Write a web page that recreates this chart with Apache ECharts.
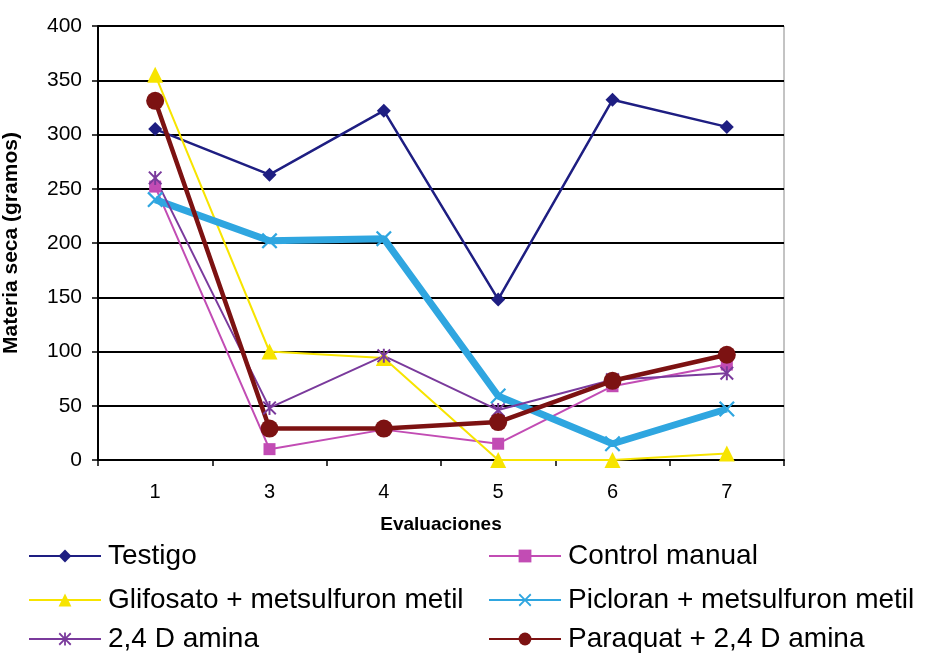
<!DOCTYPE html>
<html><head><meta charset="utf-8">
<script src="https://cdn.jsdelivr.net/npm/echarts@6/dist/echarts.min.js"></script>
<style>html,body{margin:0;padding:0;background:#fff}#c{width:928px;height:654px}</style>
</head><body><div id="c"></div>
<script>
const categories = ['1','3','4','5','6','7'];
const testigo = [305, 263, 322, 148, 332, 307];
const controlManual = [252, 10, 28, 15, 68, 88];
const glifosato = [355, 100, 94, 0, 0, 6];
const picloran = [240, 202, 204, 59, 15, 47];
const amina = [260, 48, 96, 46, 74, 80];
const paraquat = [331, 29, 29, 35, 73, 97];
const seriesNames = ['Testigo','Control manual','Glifosato + metsulfuron metil','Picloran + metsulfuron metil','2,4 D amina','Paraquat + 2,4 D amina'];

const xPath = 'path://M0,1 L1,0 L5,4 L9,0 L10,1 L6,5 L10,9 L9,10 L5,6 L1,10 L0,9 L4,5 Z';
const astPath = 'path://M0,1 L1,0 L5,4 L9,0 L10,1 L6,5 L10,9 L9,10 L5,6 L1,10 L0,9 L4,5 Z M4.3,0 L5.7,0 L5.7,10 L4.3,10 Z';

const font = 'Liberation Sans, Arial, sans-serif';
const chart = echarts.init(document.getElementById('c'), null, {renderer:'canvas'});

function mk(name, data, color, width, symbol, size){
  return {name, type:'line', data, symbol, symbolSize:size, showSymbol:true,
    lineStyle:{color, width}, itemStyle:{color, borderWidth:0}, animation:false, z: 3};
}
function leg(name, left, top){
  return {data:[name], left, top, itemWidth:72, itemHeight:16, itemGap:0, padding:0,
    textStyle:{fontFamily:font, fontSize:28, color:'#000', padding:[0,0,0,2]}};
}
chart.setOption({
  animation:false,
  backgroundColor:'#fff',
  grid:{left:98, right:144, top:26, bottom:194, containLabel:false, outerBoundsMode:'none',
    show:true, borderColor:'#888', borderWidth:1, backgroundColor:'transparent'},
  legend:[
    leg(seriesNames[0], 28, 542),
    leg(seriesNames[1], 488, 542),
    leg(seriesNames[2], 28, 586),
    leg(seriesNames[3], 488, 586),
    leg(seriesNames[4], 28, 625),
    leg(seriesNames[5], 488, 625)
  ],
  xAxis:{type:'category', data:categories, boundaryGap:true,
    name:'Evaluaciones', nameLocation:'middle', nameGap:55,
    nameTextStyle:{fontFamily:font, fontSize:19, fontWeight:'bold', color:'#000'},
    axisLine:{lineStyle:{color:'#000', width:2}},
    axisTick:{show:true, length:6, lineStyle:{color:'#000', width:1.5}},
    axisLabel:{fontFamily:font, fontSize:20, color:'#000', margin:22}},
  yAxis:{type:'value', min:0, max:400, interval:50,
    name:'Materia seca (gramos)', nameLocation:'middle', nameGap:76, nameRotate:90,
    nameTextStyle:{fontFamily:font, fontSize:21, fontWeight:'bold', color:'#000'},
    axisLine:{show:true, lineStyle:{color:'#000', width:2}},
    axisTick:{show:true, length:6, lineStyle:{color:'#000', width:1.5}},
    axisLabel:{fontFamily:font, fontSize:21, color:'#000', margin:16},
    splitLine:{show:true, lineStyle:{color:'#000', width:2}}},
  series:[
    mk(seriesNames[0], testigo, '#1e1e82', 2.5, 'diamond', 14),
    mk(seriesNames[1], controlManual, '#c24cb4', 2, 'rect', 12),
    mk(seriesNames[2], glifosato, '#f7e400', 2, 'triangle', 16),
    mk(seriesNames[3], picloran, '#2fa6e0', 7, xPath, 16),
    mk(seriesNames[4], amina, '#7a3a9c', 2, astPath, 14),
    mk(seriesNames[5], paraquat, '#7c1212', 4.5, 'circle', 18)
  ]
});
</script></body></html>
